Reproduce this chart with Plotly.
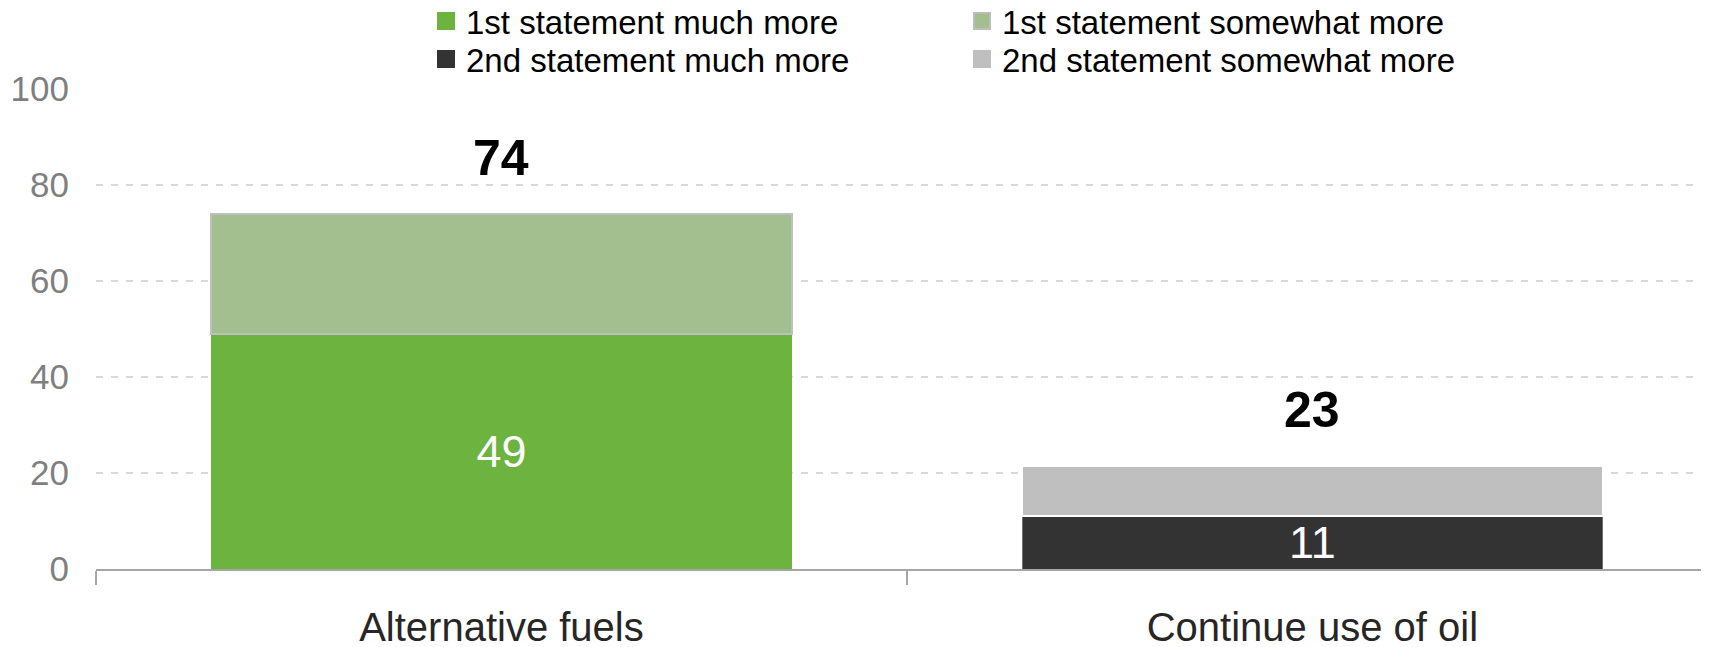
import plotly.graph_objects as go

categories = ["Alternative fuels", "Continue use of oil"]
series_names = ["1st statement much more", "1st statement somewhat more",
                "2nd statement much more", "2nd statement somewhat more"]
first_much = [49, None]
first_somewhat = [25, None]
second_much = [None, 11]
second_somewhat = [None, 10.5]
totals = [74, 23]
y_ticks = [0, 20, 40, 60, 80, 100]

colors = ["#6DB33F", "#A3BE8F", "#333333", "#BFBFBF"]
line_colors = ["#6DB33F", "#BFBFBF", "#6E6E6E", "#FFFFFF"]
line_widths = [0, 2, 1, 1.5]
legend_line_colors = ["#6DB33F", "#BDBDBD", "#333333", "#BFBFBF"]
legend_ids = ["legend", "legend", "legend2", "legend2"]
series_values = [first_much, first_somewhat, second_much, second_somewhat]

FONT = "Liberation Sans, Arial, sans-serif"
W, H = 1709, 647
OFF = 8  # default page body margin of the written html

fig = go.Figure()
for i, (name, vals) in enumerate(zip(series_names, series_values)):
    show_text = i in (0, 2)
    fig.add_trace(go.Bar(
        name=name,
        x=categories,
        y=vals,
        width=0.716,
        showlegend=False,
        marker=dict(color=colors[i], line=dict(color=line_colors[i], width=line_widths[i])),
        text=[("" if v is None else f"{v:g}") for v in vals] if show_text else None,
        textposition="inside" if show_text else "none",
        insidetextanchor="middle",
        textangle=0,
        constraintext="none",
        textfont=dict(family=FONT, size=45, color="#FFFFFF"),
        hoverinfo="skip",
    ))

# legend entries (larger square swatches, as in the reference)
for i, name in enumerate(series_names):
    fig.add_trace(go.Scatter(
        name=name, x=[None], y=[None], mode="markers",
        legend=legend_ids[i],
        marker=dict(symbol="square", size=16, color=colors[i],
                    line=dict(color=legend_line_colors[i], width=2)),
        hoverinfo="skip",
    ))

# total labels above the bars
stack_tops = [
    (first_much[0] or 0) + (first_somewhat[0] or 0),
    (second_much[1] or 0) + (second_somewhat[1] or 0),
]
for cat, top, tot in zip(categories, stack_tops, totals):
    fig.add_annotation(
        x=cat, y=top, xref="x", yref="y",
        text=f"<b>{tot}</b>", showarrow=False,
        yanchor="bottom", yshift=26,
        font=dict(family=FONT, size=50, color="#000000"),
    )

legend_common = dict(
    orientation="h",
    xref="container", yref="container",
    x=(426 - OFF) / W, xanchor="left",
    yanchor="middle",
    entrywidth=491, entrywidthmode="pixels",
    traceorder="normal",
    itemsizing="trace",
    font=dict(family=FONT, size=33, color="#000000"),
    bgcolor="rgba(0,0,0,0)",
)

fig.update_layout(
    width=W, height=H,
    margin=dict(l=96 - OFF, r=0, t=89 - OFF, b=H - (569 - OFF), autoexpand=False),
    paper_bgcolor="#FFFFFF", plot_bgcolor="#FFFFFF",
    barmode="stack",
    showlegend=True,
    legend=dict(legend_common, y=1 - (21 - OFF) / H),
    legend2=dict(legend_common, y=1 - (59 - OFF) / H),
    font=dict(family=FONT),
)

fig.update_xaxes(
    range=[-0.5, 1.499],
    showline=True, linecolor="#A6A6A6", linewidth=2,
    ticks="outside", tickson="boundaries", ticklen=14, tickwidth=2, tickcolor="#A6A6A6",
    ticklabelstandoff=22,
    tickfont=dict(family=FONT, size=40, color="#262626"),
    showgrid=False, zeroline=False,
)
fig.update_yaxes(
    range=[0, 100],
    tickvals=y_ticks,
    showline=False, zeroline=False,
    showgrid=True, gridcolor="#D9D9D9", gridwidth=1.5, griddash="7px,8px",
    ticks="", ticklabelstandoff=26,
    tickfont=dict(family=FONT, size=35, color="#7F7F7F"),
)

fig.write_html("out.html")
